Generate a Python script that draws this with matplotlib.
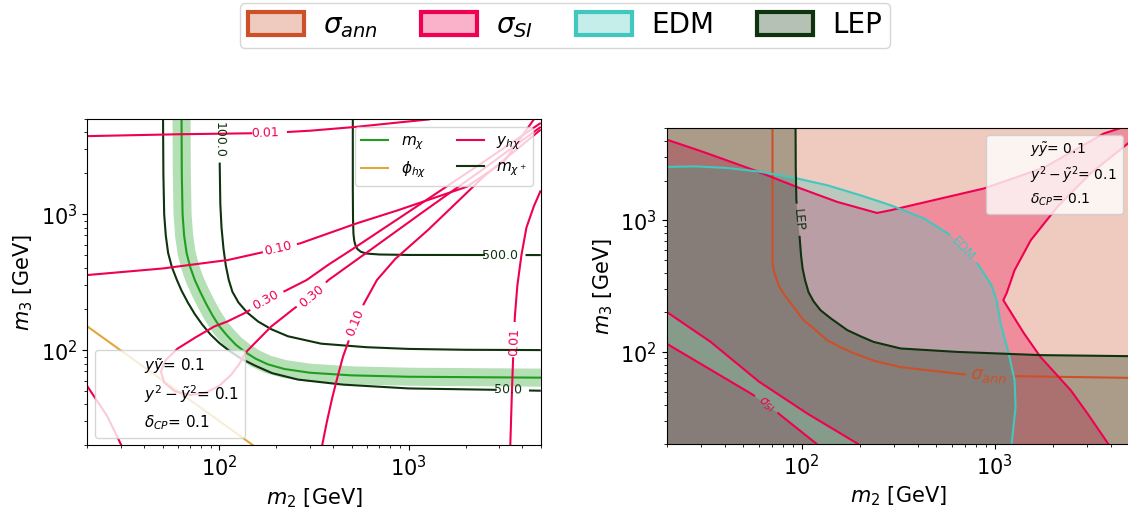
import numpy as np
import matplotlib.pyplot as plt
from matplotlib.colors import to_rgba
from matplotlib.contour import ContourSet
from matplotlib.lines import Line2D
from matplotlib.patches import Patch

M_LO, M_HI = 20, 5000

C_ANN = "#cc5028"
C_SI = "#f00050"
C_EDM = "#40c8be"
C_LEP = "#0f320f"
C_MCHI = "#1f9e1f"
C_PHI = "#e0a83c"

# ---------------- left panel: spectrum / coupling contours (GeV) ----------------
mchi_m2 = [63, 63.2, 63.8, 65, 67, 70, 74, 79, 85, 92, 100, 110, 122, 137, 155,
           180, 220, 300, 500, 1000, 5000]
mchi_m3 = [5000, 2000, 1000, 700, 520, 410, 330, 270, 220, 180, 150, 128, 110, 97,
           87, 79, 73, 68.5, 65.5, 64, 63]

phi_m2 = [20, 151]
phi_m3 = [150, 20]

mp50_m2 = [50.3, 50.5, 51, 52, 53.5, 56, 59.5, 63, 68, 74, 81, 90, 100, 113, 130,
           155, 190, 260, 450, 1000, 5000]
mp50_m3 = [5000, 2000, 1000, 700, 520, 410, 330, 275, 225, 185, 155, 130, 113, 99,
           87, 77, 68, 61, 56, 52.5, 50.5]
mp100_m2 = [100, 100.3, 101, 102.5, 105, 108, 112, 117, 126, 140, 160, 188, 230,
            345, 600, 1000, 2000, 5000]
mp100_m3 = [5000, 2300, 1200, 800, 560, 420, 329, 270, 225, 190, 163, 143, 127,
            112, 105.5, 102.5, 101, 100.5]
mp500_m2 = [507, 507, 508.5, 511, 516, 524, 537, 560, 600, 700, 1000, 5000]
mp500_m3 = [5000, 1500, 900, 720, 640, 590, 555, 530, 515, 507, 503, 502]
mp_levels = [50, 100, 500]

y001_top_m2 = [20, 60, 174, 300, 530, 900, 1300]
y001_top_m3 = [3760, 3880, 3966, 4120, 4400, 4750, 5000]
y001_right_m2 = [3450, 3520, 3600, 3650, 3760, 3950, 4200, 4600, 5000]
y001_right_m3 = [20, 50, 110, 180, 300, 500, 800, 1150, 1500]
y010_up_m2 = [20, 50, 111, 204, 267, 532, 882, 2032, 3200, 4600]
y010_up_m3 = [358, 400, 462, 565, 612, 859, 1074, 1596, 2450, 5000]
y010_low_m2 = [349, 370, 395, 420, 450, 485, 521, 580, 680, 850, 1270, 2500, 5000]
y010_low_m3 = [20, 30, 45, 63, 90, 120, 160, 220, 329, 470, 770, 1900, 4200]
y030_m2 = [5000, 2500, 1000, 500, 380, 289, 230, 176, 138, 110, 94, 75, 60, 52, 49,
           51, 58, 70, 85, 100, 115, 127, 138, 188, 250, 309, 377, 600, 1200, 2500, 5000]
y030_m3 = [4700, 2440, 1043, 550, 430, 329, 280, 234, 190, 163, 150, 125, 103, 85, 70,
           58, 50, 47, 49, 55, 66, 79, 97, 150, 205, 251, 329, 523, 1049, 2170, 4400]
y030_corner_m2 = [20, 25.5, 30.3]
y030_corner_m3 = [54.5, 32.8, 20]
y_levels = [0.01, 0.1, 0.3]

# ---------------- right panel: constraint boundaries (GeV) ----------------
ann_m2 = [70.7, 70.7, 72, 73.8, 76.9, 81.7, 88.8, 102.4, 118.2, 136, 159, 186, 242,
          326, 681, 1283, 4950]
ann_m3 = [5000, 472, 411, 364, 311, 270, 231, 175, 147, 123, 109, 98.3, 85.5,
          77, 68.1, 65.8, 63.9]

lep_m2 = [93.1, 93.3, 94, 96, 98, 99.4, 101.2, 104.3, 108.7, 115.4, 125.4, 141.3,
          172.5, 202, 236, 326, 640, 1730, 5000]
lep_m3 = [5000, 2500, 1420, 1000, 705, 543, 433, 351, 285, 243, 208, 181,
          147, 132, 119.7, 106.7, 100.5, 95, 93.3]

edm_m2 = [20, 28, 41, 61, 91, 136, 202, 289, 429, 591, 826, 964, 1024, 1074, 1182,
          1270, 1285, 1225]
edm_m3 = [2535, 2560, 2490, 2330, 2100, 1840, 1545, 1300, 1035, 769, 456, 322, 248,
          166, 98.3, 61.4, 38.3, 20]

si_top_m2 = [20, 31, 57, 99, 153, 246, 289, 400, 880, 1800, 3680, 4500]
si_top_m3 = [4085, 3290, 2390, 1740, 1377, 1135, 1190, 1330, 1740, 2500, 4540, 5000]
si_right_m2 = [5000, 3134, 2113, 1540, 1270, 1155, 1110, 1420, 1730, 2480, 3030, 3900]
si_right_m3 = [3900, 2260, 1260, 705, 418, 280, 248, 139, 92, 51.5, 34.3, 20]
si_band_up_m2 = [20, 33.8, 60, 107, 198]
si_band_up_m3 = [202, 119.7, 60, 34.3, 20]
si_band_low_m2 = [20, 54.5, 77.9, 120.6]
si_band_low_m3 = [116, 48.7, 33.3, 20]

params = [r"$y\tilde{y}$= 0.1", r"$y^2-\tilde{y}^2$= 0.1", r"$\delta_{CP}$= 0.1"]


def curve_set(ax, levels, curves, color, lw=1.5):
    # wrap traced curves in a ContourSet so clabel can cut inline labels
    allsegs = [[np.column_stack(c) for c in lev] for lev in curves]
    return ContourSet(ax, levels, allsegs, colors=[color] * len(levels),
                      linewidths=lw)


def setup(ax, fs):
    ax.set_xscale("log")
    ax.set_yscale("log")
    ax.set_xlim(M_LO, M_HI)
    ax.set_ylim(M_LO, M_HI)
    ax.set_xlabel(r"$m_2$ [GeV]", fontsize=fs)
    ax.set_ylabel(r"$m_3$ [GeV]", fontsize=fs)
    ax.tick_params(labelsize=fs)


fig = plt.figure(figsize=(11.28, 5.12), dpi=100)
ax1 = fig.add_axes([0.0774, 0.130, 0.402, 0.637])
ax2 = fig.add_axes([0.591, 0.132, 0.4103, 0.618])
setup(ax1, 15)
setup(ax2, 15)

# left panel
ax1.plot(mchi_m2, mchi_m3, color=C_MCHI, lw=13, alpha=0.33, solid_capstyle="butt")
ax1.plot(mchi_m2, mchi_m3, color=C_MCHI, lw=1.5)
ax1.plot(phi_m2, phi_m3, color=C_PHI, lw=1.5)

cs_mp = curve_set(ax1, mp_levels,
                  [[(mp50_m2, mp50_m3)], [(mp100_m2, mp100_m3)], [(mp500_m2, mp500_m3)]],
                  C_LEP)
cs_y = curve_set(ax1, y_levels,
                 [[(y001_top_m2, y001_top_m3), (y001_right_m2, y001_right_m3)],
                  [(y010_up_m2, y010_up_m3), (y010_low_m2, y010_low_m3)],
                  [(y030_m2, y030_m3), (y030_corner_m2, y030_corner_m3)]],
                 C_SI)
for ax in (ax1, ax2):
    ax.set_xlim(M_LO, M_HI)
    ax.set_ylim(M_LO, M_HI)

ax1.clabel(cs_mp, fmt="%1.1f", fontsize=9,
           manual=[(3375, 50.6), (102.8, 3515), (3050, 511)])
ax1.clabel(cs_y, fmt="%1.2f", fontsize=9,
           manual=[(174, 3966), (3660, 115), (204, 565), (521, 160),
                   (176, 234), (309, 251)])

leg1 = ax1.legend([Line2D([], [], color=C_MCHI), Line2D([], [], color=C_PHI),
                   Line2D([], [], color=C_SI), Line2D([], [], color=C_LEP)],
                  [r"$m_\chi$", r"$\phi_{h\chi}$", r"$y_{h\chi}$", r"$m_{\chi^+}$"],
                  loc="upper right", ncol=2, fontsize=11, handlelength=1.8)
ax1.add_artist(leg1)
ax1.legend([Line2D([], [], ls="none")] * 3, params, loc="lower left", fontsize=11)

# right panel: overlapping excluded regions
ax2.fill_between([M_LO, M_HI], M_LO, M_HI, color=C_ANN, alpha=0.3, lw=0)
si_x = np.concatenate([si_top_m2, [M_HI], si_right_m2, si_band_up_m2[::-1]])
si_y = np.concatenate([si_top_m3, [M_HI], si_right_m3, si_band_up_m3[::-1]])
ax2.fill(si_x, si_y, color=C_SI, alpha=0.3, lw=0)
ax2.fill(si_band_low_m2 + [M_LO], si_band_low_m3 + [M_LO], color=C_SI, alpha=0.3, lw=0)
ax2.fill(edm_m2 + [M_LO], edm_m3 + [M_LO], color=C_EDM, alpha=0.3, lw=0)
ax2.fill(lep_m2 + [M_HI, M_LO, M_LO], lep_m3 + [M_LO, M_LO, M_HI],
         color=C_LEP, alpha=0.3, lw=0)

cs_ann = curve_set(ax2, [1.0], [[(ann_m2, ann_m3)]], C_ANN)
cs_si = curve_set(ax2, [1.0],
                  [[(si_top_m2, si_top_m3), (si_right_m2, si_right_m3),
                    (si_band_up_m2, si_band_up_m3), (si_band_low_m2, si_band_low_m3)]],
                  C_SI)
cs_edm = curve_set(ax2, [1.0], [[(edm_m2, edm_m3)]], C_EDM)
cs_lep = curve_set(ax2, [1.0], [[(lep_m2, lep_m3)]], C_LEP)
ax2.set_xlim(M_LO, M_HI)
ax2.set_ylim(M_LO, M_HI)

ax2.clabel(cs_ann, fmt={1.0: r"$\sigma_{ann}$"}, fontsize=13, manual=[(934, 67)])
ax2.clabel(cs_si, fmt={1.0: r"$\sigma_{SI}$"}, fontsize=9, manual=[(65, 39.7)])
ax2.clabel(cs_edm, fmt={1.0: "EDM"}, fontsize=9, manual=[(693, 611)])
ax2.clabel(cs_lep, fmt={1.0: "LEP"}, fontsize=9, manual=[(96.5, 1000)])

ax2.legend([Line2D([], [], ls="none")] * 3, params, loc="upper right", fontsize=10,
           labelspacing=0.4)

# shared legend for the shaded constraints
cols = [C_ANN, C_SI, C_EDM, C_LEP]
patches = [Patch(facecolor=to_rgba(c, 0.3), edgecolor=c, lw=3) for c in cols]
fig.legend(patches, [r"$\sigma_{ann}$", r"$\sigma_{SI}$", "EDM", "LEP"],
           loc="upper center", bbox_to_anchor=(0.501, 1.0), ncol=4, fontsize=20,
           borderaxespad=0.1, borderpad=0.3, handleheight=0.85,
           handletextpad=0.7, columnspacing=1.55)

fig.savefig("out.png", dpi=100)
